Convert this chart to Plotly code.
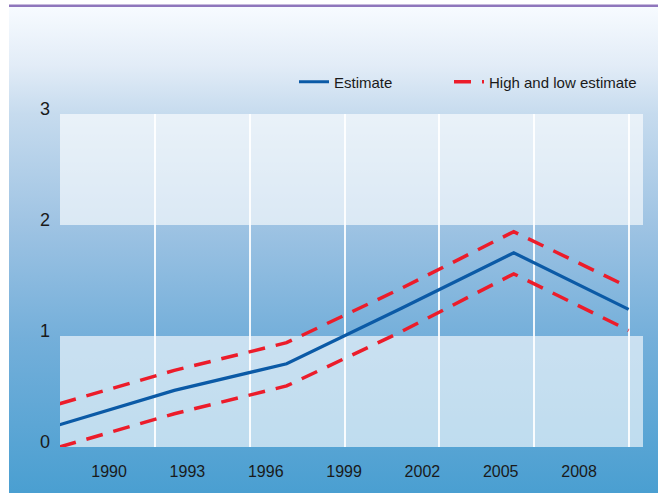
import base64
import plotly.graph_objects as go

# positions along the time axis (decimal years) and the three series
years = [1988.1, 1992.5, 1996.8, 2001.2, 2005.5, 2009.9]
estimate = [0.20, 0.51, 0.75, 1.25, 1.75, 1.24]
high_est = [0.39, 0.69, 0.94, 1.43, 1.94, 1.44]
low_est = [0.00, 0.30, 0.55, 1.04, 1.56, 1.05]

x_ticks = [1990, 1993, 1996, 1999, 2002, 2005, 2008]
y_ticks = [0, 1, 2, 3]
grid_years = [1991.76, 1995.39, 1999.02, 2002.65, 2006.28, 2009.91]

W, H = 658, 493
L, R, T, B = 60, 15, 114, 46
pw, ph = W - L - R, H - T - B

BLUE = "#0b5aa6"
RED = "#ec1c2a"
FONT = "Liberation Sans, Arial, sans-serif"

# background gradient as an svg image
svg = """<svg xmlns='http://www.w3.org/2000/svg' width='649' height='486' preserveAspectRatio='none'>
<defs><linearGradient id='g' x1='0' y1='0' x2='0' y2='1'>
<stop offset='0' stop-color='#f7fbff'/>
<stop offset='0.12' stop-color='#e2ecf7'/>
<stop offset='0.22' stop-color='#c6dbee'/>
<stop offset='0.45' stop-color='#9ec3e3'/>
<stop offset='0.68' stop-color='#74afda'/>
<stop offset='1' stop-color='#4a9fd1'/>
</linearGradient></defs>
<rect width='649' height='486' fill='url(#g)'/></svg>"""
src = "data:image/svg+xml;base64," + base64.b64encode(svg.encode()).decode()


def px(xp):
    return (xp - L) / pw


def py(yp):
    return (H - B - yp) / ph


fig = go.Figure()
fig.add_trace(go.Scatter(x=years, y=estimate, mode="lines", name="Estimate",
                         legend="legend", line=dict(color=BLUE, width=3.2)))
fig.add_trace(go.Scatter(x=years, y=high_est, mode="lines", name="High and low estimate",
                         legend="legend2", line=dict(color=RED, width=3.5, dash="17px,11px")))
fig.add_trace(go.Scatter(x=years, y=low_est, mode="lines", showlegend=False,
                         line=dict(color=RED, width=3.5, dash="17px,11px")))

shapes = []
for y0 in [0, 2]:
    shapes.append(dict(type="rect", xref="paper", yref="y", x0=0, x1=1, y0=y0, y1=y0 + 1,
                       fillcolor="rgba(255,255,255,0.62)", line=dict(width=0), layer="below"))
shapes.append(dict(type="line", xref="paper", yref="paper", x0=px(9), x1=px(658),
                   y0=py(5.8), y1=py(5.8), line=dict(color="#8f76bc", width=2.5)))

legend_style = dict(orientation="h", y=py(82), xanchor="left", yanchor="middle",
                    bgcolor="rgba(0,0,0,0)", font=dict(size=15, color="#1a1a1a"))

fig.update_layout(
    width=W, height=H,
    margin=dict(l=L, r=R, t=T, b=B),
    paper_bgcolor="white",
    plot_bgcolor="rgba(0,0,0,0)",
    font=dict(family=FONT, color="#1a1a1a"),
    shapes=shapes,
    images=[dict(source=src, xref="paper", yref="paper", x=px(9), y=py(7),
                 sizex=649 / pw, sizey=486 / ph, xanchor="left", yanchor="top",
                 sizing="stretch", layer="below")],
    showlegend=True,
    legend=dict(x=px(294), **legend_style),
    legend2=dict(x=px(449), **legend_style),
    xaxis=dict(range=[1988.12, 2010.45], tickmode="array", tickvals=x_ticks,
               showgrid=False, zeroline=False, showline=False, ticks="",
               tickfont=dict(size=16), ticklabelstandoff=13,
               minor=dict(tickmode="array", tickvals=grid_years, showgrid=True,
                          gridcolor="rgba(255,255,255,0.9)", gridwidth=1.5, ticks="")),
    yaxis=dict(range=[0, 3], tickmode="array", tickvals=y_ticks,
               showgrid=False, zeroline=False, showline=False, ticks="",
               tickfont=dict(size=18), ticklabelstandoff=9, ticklabelshift=-5),
)

fig.write_html("out.html", config={"displayModeBar": False},
               post_script="document.body.style.margin='0';")
